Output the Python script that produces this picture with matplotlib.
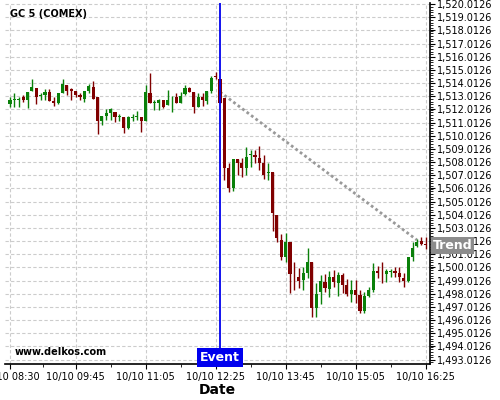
import pandas as pd
import matplotlib
matplotlib.use('Agg')
import matplotlib.pyplot as plt
import matplotlib.dates as mdates
from matplotlib.ticker import FuncFormatter, MultipleLocator, FixedLocator

# 5-minute bars, GC 5 (COMEX), 10/10
start_time = '2019-10-10 08:30'

opens = [
    1512.45, 1512.73, 1512.73, 1512.93, 1512.75, 1513.44, 1513.64, 1513.03, 1513.11, 1513.34,
    1512.68, 1512.48, 1513.28, 1513.87, 1513.54, 1513.44, 1513.11, 1512.83, 1513.44, 1513.69,
    1512.93, 1511.16, 1511.51, 1511.76, 1511.82, 1511.42, 1511.46, 1510.63, 1511.36, 1511.46,
    1511.42, 1511.16, 1513.26, 1512.48, 1512.52, 1512.73, 1512.37, 1512.78, 1512.93, 1512.52,
    1513.16, 1513.64, 1513.34, 1512.17, 1512.98, 1512.68, 1513.41, 1514.57, 1514.32, 1512.88,
    1507.59, 1506.07, 1508.25, 1507.97, 1507.59, 1508.55, 1508.58, 1508.35, 1507.97, 1507.20,
    1507.24, 1504.00, 1502.10, 1500.83, 1501.95, 1499.54, 1499.31, 1499.06, 1499.57, 1500.43,
    1496.91, 1498.17, 1498.93, 1498.35, 1499.31, 1498.85, 1499.44, 1498.68, 1497.99, 1498.30,
    1497.92, 1496.73, 1497.85, 1498.30, 1499.74, 1499.54, 1499.49, 1499.69, 1499.77, 1499.57,
    1499.19, 1499.01, 1500.83, 1501.67, 1502.02, 1501.74]
highs = [
    1512.98, 1513.28, 1512.93, 1513.11, 1513.34, 1514.30, 1513.64, 1513.28, 1513.59, 1513.54,
    1512.98, 1513.26, 1514.30, 1513.87, 1513.62, 1513.44, 1513.24, 1513.44, 1513.94, 1514.17,
    1512.93, 1511.51, 1512.02, 1512.10, 1511.82, 1511.67, 1511.46, 1511.51, 1511.67, 1511.92,
    1511.42, 1513.87, 1514.80, 1512.73, 1512.81, 1512.73, 1513.49, 1513.03, 1513.28, 1513.34,
    1513.85, 1513.69, 1513.34, 1513.24, 1513.24, 1513.41, 1514.55, 1514.85, 1514.35, 1512.88,
    1507.95, 1508.25, 1508.25, 1508.35, 1509.18, 1508.93, 1508.93, 1509.23, 1508.55, 1507.92,
    1507.24, 1504.00, 1502.55, 1502.65, 1501.95, 1500.45, 1499.97, 1500.07, 1501.47, 1500.43,
    1498.81, 1499.44, 1499.49, 1499.74, 1499.82, 1499.69, 1499.62, 1499.11, 1499.06, 1499.06,
    1498.30, 1498.17, 1498.51, 1500.33, 1500.12, 1500.41, 1499.87, 1499.87, 1500.07, 1500.07,
    1499.57, 1500.83, 1501.97, 1502.15, 1502.30, 1502.35]
lows = [
    1512.17, 1512.22, 1512.17, 1512.60, 1512.10, 1513.44, 1512.43, 1512.73, 1512.73, 1512.68,
    1512.27, 1512.43, 1513.28, 1513.11, 1512.73, 1512.93, 1512.73, 1512.60, 1513.28, 1512.83,
    1510.15, 1510.83, 1511.21, 1511.21, 1511.08, 1511.16, 1510.20, 1510.50, 1511.16, 1511.21,
    1510.32, 1511.16, 1512.52, 1511.97, 1511.97, 1512.10, 1512.33, 1511.82, 1512.48, 1512.52,
    1513.11, 1513.34, 1511.76, 1512.17, 1512.30, 1512.43, 1513.24, 1514.32, 1512.50, 1506.68,
    1505.77, 1505.84, 1507.03, 1506.91, 1507.03, 1507.64, 1507.97, 1507.41, 1506.71, 1506.65,
    1502.80, 1501.97, 1500.58, 1500.45, 1498.10, 1498.30, 1498.45, 1498.30, 1499.19, 1496.28,
    1496.27, 1497.24, 1498.17, 1497.79, 1498.55, 1497.85, 1498.05, 1497.85, 1497.41, 1497.29,
    1496.53, 1496.58, 1497.75, 1498.17, 1499.19, 1498.81, 1498.93, 1499.31, 1499.31, 1498.93,
    1498.51, 1498.93, 1500.50, 1501.59, 1501.72, 1501.39]
closes = [
    1512.75, 1512.83, 1512.80, 1512.75, 1513.34, 1513.69, 1512.98, 1513.11, 1513.34, 1512.68,
    1512.48, 1513.26, 1513.94, 1513.44, 1513.44, 1513.11, 1512.93, 1513.44, 1513.79, 1512.83,
    1511.16, 1511.51, 1511.76, 1512.02, 1511.42, 1511.51, 1510.58, 1511.42, 1511.46, 1511.54,
    1511.16, 1513.34, 1512.52, 1512.55, 1512.73, 1512.22, 1512.73, 1512.83, 1512.52, 1513.03,
    1513.64, 1513.34, 1512.17, 1512.93, 1512.75, 1513.41, 1514.42, 1514.45, 1512.52, 1507.59,
    1506.07, 1508.25, 1507.97, 1507.59, 1508.38, 1508.60, 1508.38, 1507.97, 1507.06, 1507.24,
    1504.17, 1502.27, 1500.83, 1501.95, 1499.51, 1499.49, 1499.01, 1499.57, 1500.43, 1496.91,
    1497.99, 1498.98, 1498.48, 1499.31, 1498.93, 1499.44, 1498.68, 1497.99, 1498.30, 1497.92,
    1496.73, 1497.85, 1498.30, 1499.74, 1499.62, 1499.49, 1499.74, 1499.77, 1499.57, 1499.26,
    1499.01, 1500.83, 1501.47, 1501.93, 1501.80, 1501.72]

tick_times = ['08:30', '09:45', '11:05', '12:25', '13:45', '15:05', '16:25']
event_time = '12:30'
trend_times = ['12:30', '16:15']
trend_prices = [1513.34, 1502.10]
trend_label_price = 1501.7

day = '2019-10-10 '
times = pd.date_range(start_time, periods=len(opens), freq='5min')
x = mdates.date2num(times)
bar_w = 3.7 / 1440  # body width in days

fig = plt.figure(figsize=(5, 4), dpi=100)
ax = fig.add_axes([0.01, 0.09, 0.85, 0.9025])

green = '#0a800a'
red = '#800000'
for xi, o, h, l, c in zip(x, opens, highs, lows, closes):
    col = green if c >= o else red
    ax.vlines(xi, l, h, color=col, linewidth=1, zorder=3)
    body = max(abs(c - o), 0.05)
    ax.bar(xi, body, bottom=min(o, c), width=bar_w, color=col,
           linewidth=0, zorder=4)

# event marker
ev = mdates.date2num(pd.Timestamp(day + event_time))
ax.axvline(ev, color='#0000ee', linewidth=1.3, zorder=5)
ax.annotate('Event', xy=(ev, 0), xycoords=('data', 'axes fraction'),
            ha='center', va='bottom', color='white', fontsize=9,
            fontweight='bold', zorder=6,
            bbox=dict(boxstyle='square,pad=0.25', fc='#0000ee', ec='none'))

# trend line
tx = mdates.date2num(pd.to_datetime([day + t for t in trend_times]))
ax.plot(tx, trend_prices, color='#999999', linestyle=(0, (1, 1)),
        linewidth=2, zorder=2)
ax.annotate('Trend', xy=(1.006, trend_label_price),
            xycoords=('axes fraction', 'data'), ha='left', va='center',
            color='white', fontsize=9, fontweight='bold', zorder=6,
            annotation_clip=False,
            bbox=dict(boxstyle='square,pad=0.15', fc='#8c8c8c', ec='none'))

# axes
x0 = mdates.date2num(pd.Timestamp(day + '08:24:17'))
x1 = mdates.date2num(pd.Timestamp(day + '16:30'))
ax.set_xlim(x0, x1)
ax.set_ylim(1492.68, 1520.10)

major = mdates.date2num(pd.to_datetime([day + t for t in tick_times]))
ax.xaxis.set_major_locator(FixedLocator(major))
ax.xaxis.set_minor_locator(FixedLocator((major[:-1] + major[1:]) / 2))
ax.xaxis.set_major_formatter(mdates.DateFormatter('%m/%d %H:%M'))

ax.yaxis.tick_right()
ax.yaxis.set_label_position('right')
ax.yaxis.set_major_locator(FixedLocator([1493.0126 + k for k in range(28)]))
ax.yaxis.set_minor_locator(MultipleLocator(0.2))
ax.yaxis.set_major_formatter(FuncFormatter(lambda v, p: f'{v:,.4f}'))

ax.tick_params(axis='both', labelsize=7, length=3.5, width=0.8)
ax.tick_params(axis='both', which='minor', length=2, width=0.6)
ax.tick_params(axis='y', pad=1.5)
ax.tick_params(axis='x', pad=2)
for s in ['top', 'left']:
    ax.spines[s].set_visible(False)
for s in ['right', 'bottom']:
    ax.spines[s].set_linewidth(1.2)

ax.grid(True, which='major', color='#cccccc', linestyle=(0, (3, 2)),
        linewidth=0.8)
ax.set_axisbelow(True)

ax.text(0.012, 0.982, 'GC 5 (COMEX)', transform=ax.transAxes,
        fontsize=7, fontweight='bold', va='top', ha='left')
ax.text(0.023, 0.02, 'www.delkos.com', transform=ax.transAxes,
        fontsize=7, fontweight='bold', va='bottom', ha='left')
ax.set_xlabel('Date', fontsize=10, fontweight='bold', labelpad=1)

fig.savefig('out.png', dpi=100)
